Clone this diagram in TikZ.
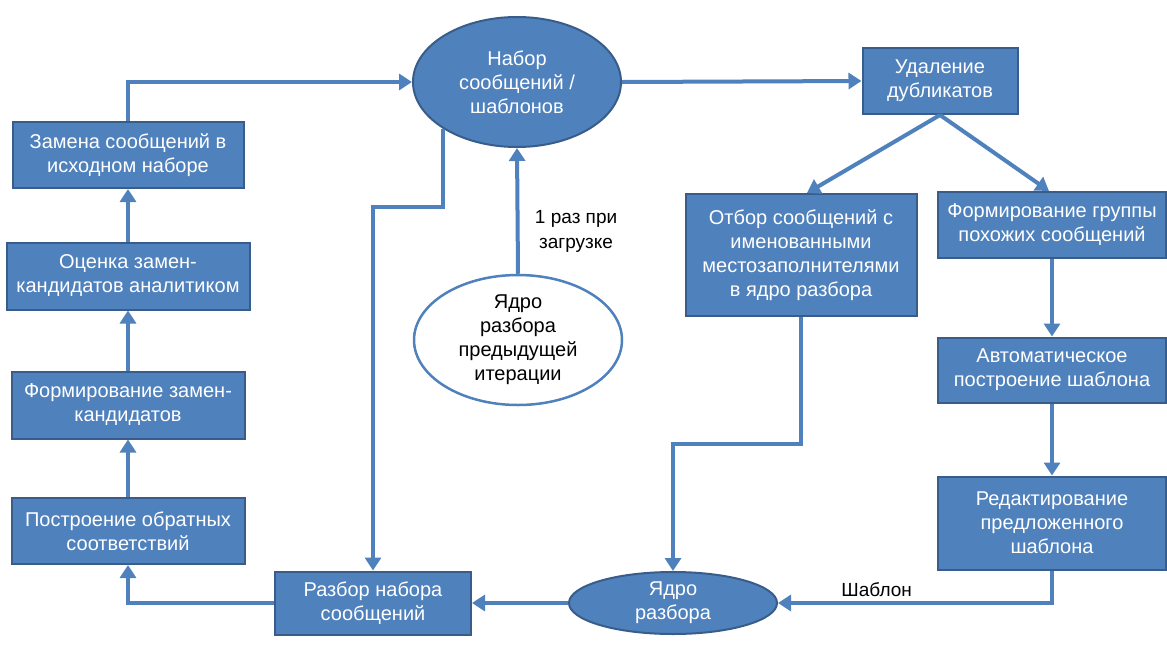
\documentclass[tikz,border=0pt]{standalone}
\usepackage{fontspec}
\setmainfont{Liberation Sans}
\usetikzlibrary{arrows.meta,shapes.geometric}
\definecolor{fillblue}{HTML}{4F81BD}
\definecolor{edgeblue}{HTML}{385D8A}
\begin{document}
\begin{tikzpicture}[x=1pt,y=-1pt,
  txt/.style={font=\fontsize{20}{24}\selectfont,align=center},
  box/.style={txt,draw=edgeblue,line width=2pt,fill=fillblue,text=white,inner sep=0pt},
  oval/.style={txt,ellipse,draw=edgeblue,line width=2pt,fill=fillblue,text=white,inner sep=0pt},
  woval/.style={txt,ellipse,draw=fillblue,line width=2.5pt,fill=white,text=black,inner sep=0pt},
  arr/.style={draw=fillblue,line width=4pt,-{Triangle[length=13pt,width=16pt]}},
  lbl/.style={font=\fontsize{19}{25}\selectfont,align=center,text=black}]
\useasboundingbox[fill=white] (0,0) rectangle (1167,646);
% nodes
\node[oval,minimum width=208pt,minimum height=130pt] (nabor) at (517,82) {Набор\\сообщений /\\шаблонов};
\node[woval,minimum width=208pt,minimum height=130pt] (prev) at (518,340) {Ядро\\разбора\\предыдущей\\итерации};
\node[oval,minimum width=208pt,minimum height=62pt] (yadro) at (673,603) {Ядро\\разбора};
\node[box,minimum width=231pt,minimum height=66pt] (zamena) at (128,155) {Замена сообщений в\\исходном наборе};
\node[box,minimum width=243pt,minimum height=67pt] (ocenka) at (128,276) {Оценка замен-\\кандидатов аналитиком};
\node[box,minimum width=233pt,minimum height=67pt] (formz) at (128,405) {Формирование замен-\\кандидатов};
\node[box,minimum width=233pt,minimum height=66pt] (postr) at (128,531) {Построение обратных\\соответствий};
\node[box,minimum width=196pt,minimum height=63pt] (razbor) at (373,603) {Разбор набора\\сообщений};
\node[box,minimum width=155pt,minimum height=66pt] (udal) at (940,81) {Удаление\\дубликатов};
\node[box,minimum width=231pt,minimum height=122pt] (otbor) at (801,255) {Отбор сообщений с\\именованными\\местозаполнителями\\в ядро разбора};
\node[box,minimum width=228pt,minimum height=66pt] (formg) at (1052,225) {Формирование группы\\похожих сообщений};
\node[box,minimum width=228pt,minimum height=65pt] (avto) at (1052,370) {Автоматическое\\построение шаблона};
\node[box,minimum width=228pt,minimum height=93pt] (redakt) at (1052,523) {Редактирование\\предложенного\\шаблона};
% connectors
\draw[arr] (zamena.north) |- (nabor.west);
\draw[arr] (ocenka.north) -- (zamena.south);
\draw[arr] (formz.north) -- (ocenka.south);
\draw[arr] (postr.north) -- (formz.south);
\draw[arr] (razbor.west) -| (postr.south);
\draw[arr] (nabor.south west) -- (nabor.south west |- 0,207) -| (razbor.north);
\draw[arr] (prev.north) -- (nabor.south) node[lbl,pos=0.34,right=12pt] {1 раз при\\загрузке};
\draw[arr] (nabor.east) -- (udal.west);
\draw[arr] (udal.south) -- ([xshift=6pt]otbor.north);
\draw[arr] (udal.south) -- ([xshift=-3pt]formg.north);
\draw[arr] (formg.south) -- (avto.north);
\draw[arr] (avto.south) -- (redakt.north);
\draw[arr] (redakt.south) |- (yadro.east) node[lbl,pos=0.82,above=1pt] {Шаблон};
\draw[arr] (otbor.south) -- (otbor.south |- 0,444) -| (yadro.north);
\draw[arr] (yadro.west) -- (razbor.east);
\end{tikzpicture}
\end{document}
